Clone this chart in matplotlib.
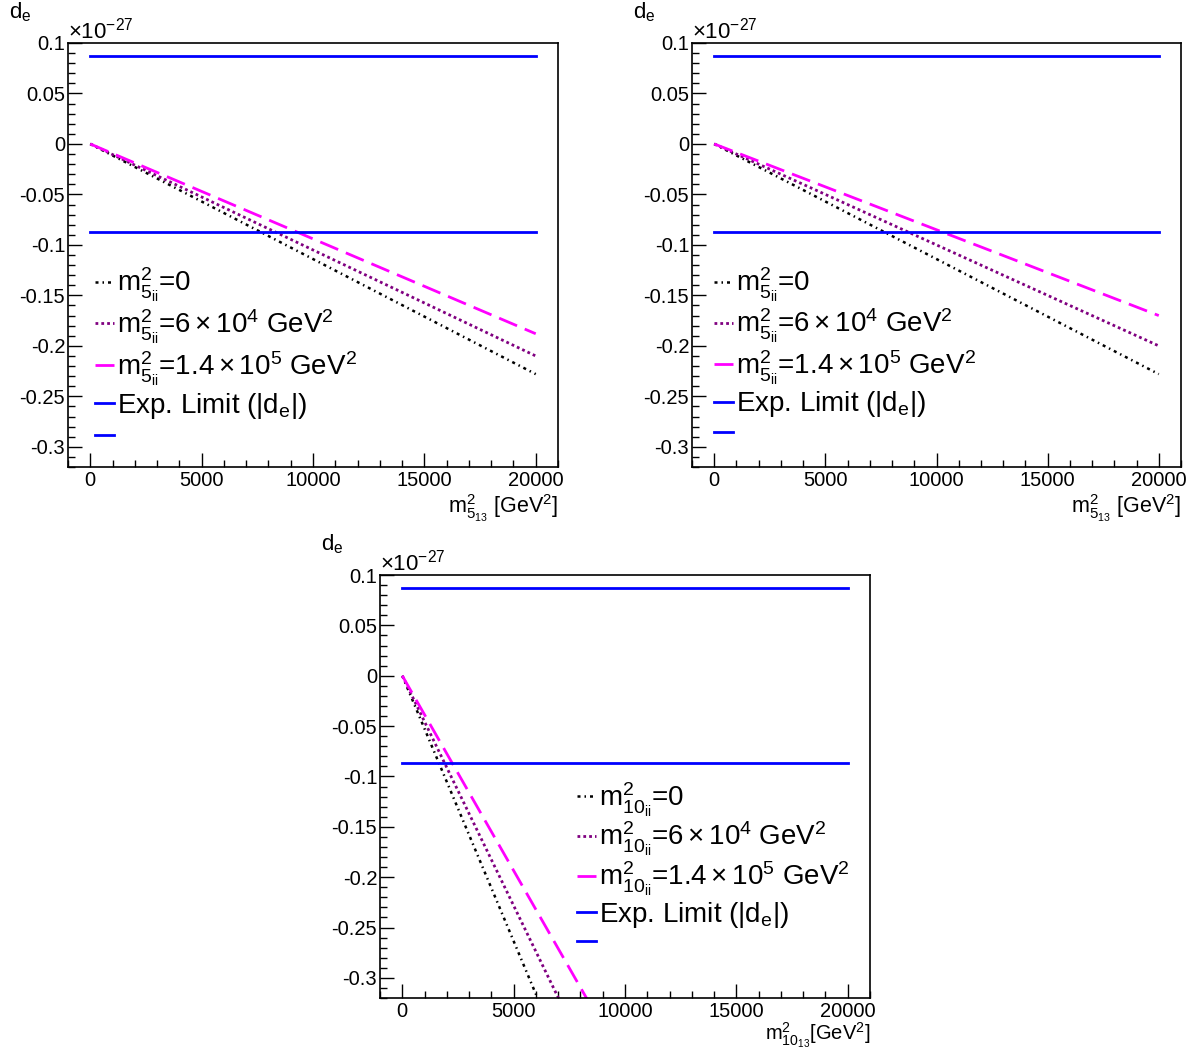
import matplotlib
matplotlib.use("Agg")
import matplotlib.pyplot as plt
from matplotlib.ticker import MultipleLocator, FuncFormatter

plt.rcParams['font.family'] = ['Liberation Sans', 'DejaVu Sans']
plt.rcParams['mathtext.fontset'] = 'custom'
plt.rcParams['mathtext.rm'] = 'Liberation Sans'
plt.rcParams['mathtext.it'] = 'Liberation Sans'
plt.rcParams['mathtext.bf'] = 'Liberation Sans:bold'

# end points of the straight lines (x in GeV^2, d_e in units of 1e-27)
x_vals = [0, 20000]
limit = 0.087

panel_a = {"m0": [0, -0.228], "m6e4": [0, -0.210], "m14e5": [0, -0.188]}
panel_b = {"m0": [0, -0.228], "m6e4": [0, -0.200], "m14e5": [0, -0.170]}
panel_c = {"m0": [0, -1.054], "m6e4": [0, -0.913], "m14e5": [0, -0.774]}

labels_5 = [r'$\mathrm{m^{2}_{5_{ii}}}$=0',
            r'$\mathrm{m^{2}_{5_{ii}}}$=$\mathrm{6\times10^{4}}$ GeV$^{2}$',
            r'$\mathrm{m^{2}_{5_{ii}}}$=$\mathrm{1.4\times10^{5}}$ GeV$^{2}$',
            r'Exp. Limit (|d$_{\mathrm{e}}$|)', '']
labels_10 = [r'$\mathrm{m^{2}_{10_{ii}}}$=0',
             r'$\mathrm{m^{2}_{10_{ii}}}$=$\mathrm{6\times10^{4}}$ GeV$^{2}$',
             r'$\mathrm{m^{2}_{10_{ii}}}$=$\mathrm{1.4\times10^{5}}$ GeV$^{2}$',
             r'Exp. Limit (|d$_{\mathrm{e}}$|)', '']

W, H = 1194, 1053
fig = plt.figure(figsize=(W / 100, H / 100), dpi=100)


def px_axes(x0, y0, x1, y1):
    return fig.add_axes([x0 / W, 1 - y1 / H, (x1 - x0) / W, (y1 - y0) / H])


def panel(ax, data, labels, xlabel, xlab_y, xlab_size, leg_anchor, spacing):
    l1, = ax.plot(x_vals, data["m0"], color='black', lw=1.8,
                  linestyle=(0, (1.2, 1.6, 0.6, 1.6)))
    l2, = ax.plot(x_vals, data["m6e4"], color='#800080', lw=2.0,
                  linestyle=(0, (1.0, 1.1)))
    l3, = ax.plot(x_vals, data["m14e5"], color='#ff00ff', lw=2.0,
                  linestyle=(0, (7, 3)))
    l4, = ax.plot(x_vals, [limit, limit], color='#0000ff', lw=2.0)
    ax.plot(x_vals, [-limit, -limit], color='#0000ff', lw=2.0)
    ax.set_xlim(-1000, 21000)
    ax.set_ylim(-0.32, 0.1)
    ax.xaxis.set_major_locator(MultipleLocator(5000))
    ax.xaxis.set_minor_locator(MultipleLocator(1000))
    ax.yaxis.set_major_locator(MultipleLocator(0.05))
    ax.yaxis.set_minor_locator(MultipleLocator(0.01))
    ax.yaxis.set_major_formatter(FuncFormatter(lambda v, p: '%g' % round(v, 3)))
    ax.tick_params(which='both', direction='in', top=False, right=False,
                   labelsize=14.5, width=1.0)
    ax.tick_params(which='major', length=10)
    ax.tick_params(which='minor', length=5)
    ax.tick_params(axis='y', pad=2)
    ax.tick_params(axis='x', pad=3)
    for s in ax.spines.values():
        s.set_linewidth(1.2)
    ax.text(0.0, 1.0, r'$\times$10$^{\mathrm{-27}}$', transform=ax.transAxes,
            fontsize=16, ha='left', va='bottom')
    ax.text(1.0, xlab_y, xlabel, transform=ax.transAxes, fontsize=xlab_size,
            ha='right', va='bottom')
    ax.text(-0.12, 1.045, r'd$_{\mathrm{e}}$', transform=ax.transAxes,
            fontsize=16, ha='left', va='bottom')
    extra, = ax.plot([], [], color='#0000ff', lw=2.0)
    ax.legend([l1, l2, l3, l4, extra], labels, loc='upper left',
              bbox_to_anchor=leg_anchor, frameon=False, fontsize=20,
              handlelength=0.7, handletextpad=0.1, labelspacing=spacing,
              borderpad=0, borderaxespad=0)


ax1 = px_axes(68, 43, 558, 467)
panel(ax1, panel_a, labels_5, r'$\mathrm{m^{2}_{5_{13}}}$ [GeV$^{2}$]',
      -0.135, 15.5, (0.055, 0.475), 0.12)
ax2 = px_axes(692, 43, 1181, 467)
panel(ax2, panel_b, labels_5, r'$\mathrm{m^{2}_{5_{13}}}$ [GeV$^{2}$]',
      -0.135, 15.5, (0.045, 0.475), 0.1)
ax3 = px_axes(380, 575, 870, 998)
panel(ax3, panel_c, labels_10, r'$\mathrm{m^{2}_{10_{13}}}$[GeV$^{2}$]',
      -0.124, 14.5, (0.402, 0.515), 0.05)

fig.savefig('out.png', dpi=100)
